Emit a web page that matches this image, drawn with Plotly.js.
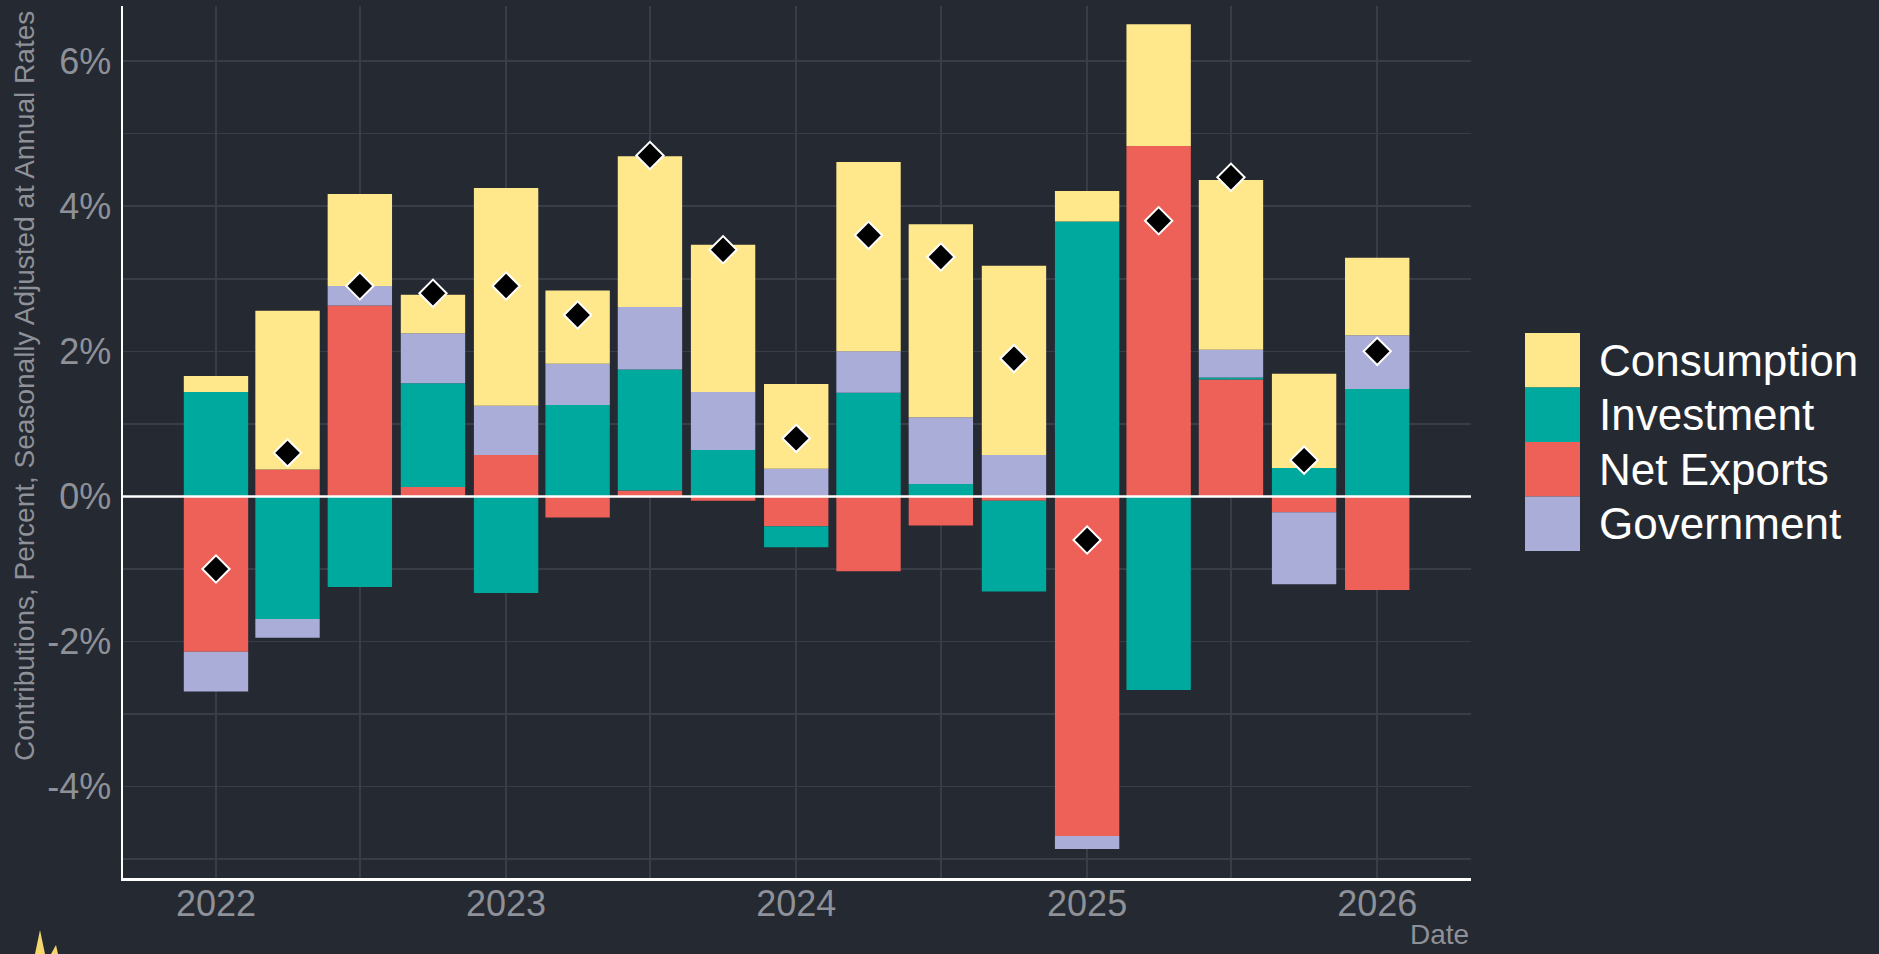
<!DOCTYPE html>
<html>
<head>
<meta charset="utf-8">
<script src="https://cdn.plot.ly/plotly-3.0.1.min.js"></script>
<style>
  html, body { margin: 0; padding: 0; background: #252932; }
  #chart { width: 1879px; height: 954px; }
</style>
</head>
<body>
<div id="chart"></div>
<script>
// ---- Data ----
const quarters = ['2022-01-01','2022-04-01','2022-07-01','2022-10-01',
                  '2023-01-01','2023-04-01','2023-07-01','2023-10-01',
                  '2024-01-01','2024-04-01','2024-07-01','2024-10-01',
                  '2025-01-01','2025-04-01','2025-07-01','2025-10-01',
                  '2026-01-01'];
const consumption = [0.22, 2.19, 1.27, 0.53, 3.00, 1.01, 2.08, 2.03, 1.17, 2.61, 2.66, 2.61, 0.42, 1.68, 2.34, 1.30, 1.07];
const investment  = [1.44, -1.69, -1.25, 1.43, -1.33, 1.26, 1.67, 0.64, -0.29, 1.43, 0.17, -1.25, 3.79, -2.67, 0.03, 0.39, 1.48];
const netExports  = [-2.14, 0.37, 2.63, 0.13, 0.57, -0.29, 0.08, -0.06, -0.41, -1.03, -0.40, -0.06, -4.68, 4.83, 1.61, -0.22, -1.29];
const government  = [-0.55, -0.26, 0.27, 0.69, 0.68, 0.57, 0.86, 0.80, 0.38, 0.57, 0.92, 0.57, -0.18, 0.00, 0.38, -0.99, 0.74];
const gdpGrowth   = [-1.0, 0.6, 2.9, 2.8, 2.9, 2.5, 4.7, 3.4, 0.8, 3.6, 3.3, 1.9, -0.6, 3.8, 4.4, 0.5, 2.0];

const seriesNames = ['Consumption', 'Investment', 'Net Exports', 'Government'];
const xTickVals = ['2022-01-01','2023-01-01','2024-01-01','2025-01-01','2026-01-01'];
const xTickText = ['2022','2023','2024','2025','2026'];
const yTickVals = [-4, -2, 0, 2, 4, 6];
const yTickText = ['-4%', '-2%', '0%', '2%', '4%', '6%'];

// ---- Styles ----
const colors = {
  'Consumption': '#FFE88C',
  'Investment':  '#00A99D',
  'Net Exports': '#EE6158',
  'Government':  '#A9ADD8'
};
const valuesByName = {
  'Consumption': consumption,
  'Investment': investment,
  'Net Exports': netExports,
  'Government': government
};
const BG = '#252932';
const GRID = '#393D47';
const TICK = '#8E9198';
const FONT = '"Liberation Sans", Arial, sans-serif';

// Stacking order (bottom-up): Net Exports, Investment, Government, Consumption
const stackOrder = ['Net Exports', 'Investment', 'Government', 'Consumption'];
const traces = stackOrder.map(name => ({
  type: 'bar',
  name: name,
  x: quarters,
  y: valuesByName[name],
  marker: { color: colors[name], line: { width: 0 } },
  showlegend: false,
  hoverinfo: 'x+y+name'
}));
traces.push({
  type: 'scatter',
  mode: 'markers',
  name: 'GDP',
  x: quarters,
  y: gdpGrowth,
  marker: { symbol: 'diamond', size: 21, color: '#000000', line: { color: '#FFFFFF', width: 2 } },
  showlegend: false
});

// ---- Layout geometry ----
const W = 1879, H = 954;
const M = { l: 123, r: 408, t: 6, b: 76 };
const PW = W - M.l - M.r, PH = H - M.t - M.b;
const px = v => (v - M.l) / PW;          // pixel x -> paper x
const py = v => (H - M.b - v) / PH;      // pixel y -> paper y

const shapes = [
  // zero line on top of bars
  { type: 'line', xref: 'paper', yref: 'y', x0: 0, x1: 1, y0: 0, y1: 0,
    line: { color: '#FFFFFF', width: 2.5 }, layer: 'above' }
];
const annotations = [];

// Custom legend (large square keys)
const legTop = 333, legStep = 54.5, keyL = 1525, keyR = 1580, textX = 1597;
seriesNames.forEach((name, k) => {
  const top = legTop + k * legStep;
  shapes.push({ type: 'rect', xref: 'paper', yref: 'paper',
    x0: px(keyL), x1: px(keyR), y0: py(top), y1: py(top + legStep),
    fillcolor: colors[name], line: { width: 0 }, layer: 'above' });
  annotations.push({ xref: 'paper', yref: 'paper', x: px(textX), y: py(top + legStep / 2),
    xanchor: 'left', yanchor: 'middle', showarrow: false, text: name,
    font: { family: FONT, size: 44, color: '#FFFFFF' } });
});

// Axis titles
annotations.push({ xref: 'paper', yref: 'paper', x: px(24), y: py(386),
  xanchor: 'center', yanchor: 'middle', textangle: -90, showarrow: false,
  text: 'Contributions, Percent, Seasonally Adjusted at Annual Rates',
  font: { family: FONT, size: 28, color: TICK } });
annotations.push({ xref: 'paper', yref: 'paper', x: 1, y: py(934),
  xanchor: 'right', yanchor: 'middle', showarrow: false, text: 'Date',
  font: { family: FONT, size: 28, color: TICK } });

// small yellow logo fragment at bottom-left
shapes.push({ type: 'path', xref: 'paper', yref: 'paper',
  path: 'M ' + px(35) + ',' + py(954) + ' L ' + px(40) + ',' + py(930) + ' L ' + px(45) + ',' + py(954) + ' Z ' +
        'M ' + px(51) + ',' + py(954) + ' L ' + px(56) + ',' + py(945) + ' L ' + px(58) + ',' + py(954) + ' Z',
  fillcolor: '#F5D76E', line: { width: 0 }, layer: 'above' });

const layout = {
  width: W, height: H,
  margin: M,
  paper_bgcolor: BG,
  plot_bgcolor: BG,
  barmode: 'relative',
  bargap: 0.1,
  showlegend: false,
  font: { family: FONT, color: TICK },
  xaxis: {
    type: 'date',
    range: ['2021-09-06', '2026-04-29'],
    tickmode: 'array',
    tickvals: xTickVals,
    ticktext: xTickText,
    tickfont: { family: FONT, size: 36, color: TICK },
    ticks: '',
    ticklabelstandoff: -8,
    showgrid: true, gridcolor: GRID, gridwidth: 1.6,
    minor: { tickmode: 'linear', tick0: '2000-01-01', dtick: 'M6', showgrid: true, gridcolor: GRID, gridwidth: 1.6, ticks: '' },
    showline: true, linecolor: '#FFFFFF', linewidth: 2.5,
    zeroline: false,
    automargin: false,
    fixedrange: true
  },
  yaxis: {
    range: [-5.26, 6.76],
    tickmode: 'array',
    tickvals: yTickVals,
    ticktext: yTickText,
    tickfont: { family: FONT, size: 36, color: TICK },
    ticks: '',
    ticklabelstandoff: 2,
    showgrid: true, gridcolor: GRID, gridwidth: 1.6,
    minor: { tickmode: 'linear', tick0: 0, dtick: 1, showgrid: true, gridcolor: GRID, gridwidth: 1.6, ticks: '' },
    showline: true, linecolor: '#FFFFFF', linewidth: 2.5,
    zeroline: false,
    automargin: false,
    fixedrange: true
  },
  shapes: shapes,
  annotations: annotations
};

Plotly.newPlot('chart', traces, layout, { displayModeBar: false, staticPlot: true });
</script>
</body>
</html>
